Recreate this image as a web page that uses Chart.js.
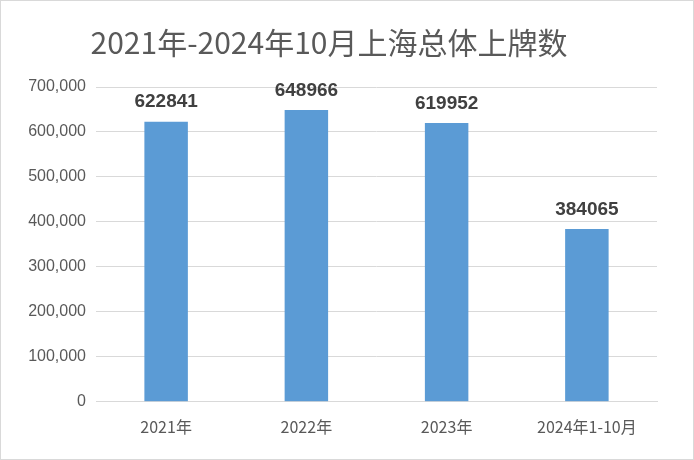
<!DOCTYPE html>
<html><head><meta charset="utf-8">
<script src="https://cdn.jsdelivr.net/npm/chart.js@4/dist/chart.umd.min.js"></script>
<style>body{margin:0;background:#fff}#w{position:relative;width:694px;height:460px;box-sizing:border-box;border:1px solid #d9d9d9}</style>
</head><body><div id="w"><canvas id="c" width="692" height="458"></canvas></div>
<script>
const title = "2021年-2024年10月上海总体上牌数";
const categories = ["2021年","2022年","2023年","2024年1-10月"];
const values = [622841, 648966, 619952, 384065];
const labelPlugin = {id:'lbl',afterDatasetsDraw(ch){const ctx=ch.ctx;const m=ch.getDatasetMeta(0);ctx.save();ctx.font='bold 19px "Liberation Sans", Calibri, sans-serif';ctx.fillStyle='#404040';ctx.textAlign='center';ctx.textBaseline='bottom';m.data.forEach((b,i)=>ctx.fillText(values[i],b.x,b.y-10));ctx.restore();}};
new Chart(document.getElementById('c'),{type:'bar',
data:{labels:categories,datasets:[{data:values,backgroundColor:'#5B9BD5',categoryPercentage:1,barPercentage:0.31}]},
options:{responsive:false,animation:false,devicePixelRatio:1,
layout:{padding:{left:0,right:36,top:10,bottom:14}},
plugins:{legend:{display:false},tooltip:{enabled:false},
title:{display:true,text:title,color:'#595959',font:{size:30,family:'"Noto Sans CJK SC", sans-serif',weight:'normal'},padding:{top:14,bottom:26}}},
scales:{y:{min:0,max:700000,ticks:{stepSize:100000,color:'#595959',font:{size:16,family:'"Liberation Sans", sans-serif'},padding:10},grid:{color:'#d9d9d9',drawTicks:false},border:{display:false},afterFit(s){s.width=95;}},
x:{ticks:{color:'#595959',font:{size:16,family:'"Noto Sans CJK SC", sans-serif'},padding:8},grid:{display:false},border:{color:'#d9d9d9'}}}},
plugins:[labelPlugin]});
</script></body></html>
